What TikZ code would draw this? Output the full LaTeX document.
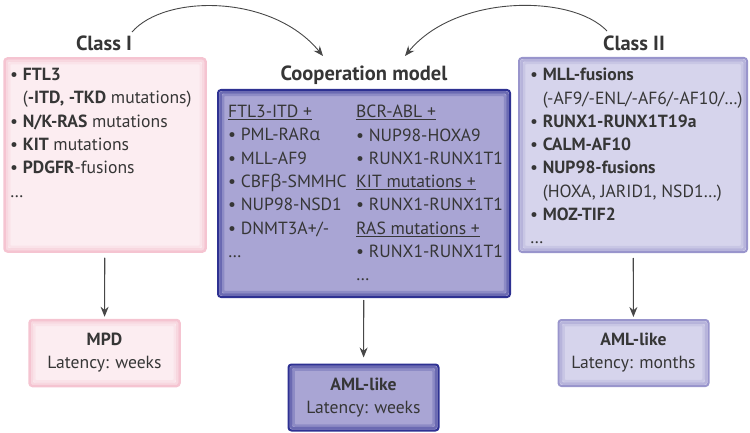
\documentclass[tikz,border=0pt]{standalone}
\usepackage{fontspec}
\setmainfont{PT Sans}
\newfontfamily\greekfont{Open Sans}
\usetikzlibrary{arrows.meta, positioning, calc}
\definecolor{TextGray}{HTML}{363636}
\definecolor{ArrowGray}{HTML}{474747}
\definecolor{PinkFill}{HTML}{FCEDF1}
\definecolor{PinkLine}{HTML}{F5C4D1}
\definecolor{Lilac}{HTML}{A9A5D4}
\definecolor{NavyLine}{HTML}{2E3192}
\definecolor{PaleLilac}{HTML}{D6D4EC}
\definecolor{LilacLine}{HTML}{9995CC}
\newcommand{\gk}[1]{{\greekfont #1}}
\newcommand{\bul}{\textbullet\ }
\newcommand{\ind}{\phantom{\textbullet\ }}
% soft band inside a box
\newcommand{\innerglow}[2]{%
  \draw[#2, line width=2.5pt, rounded corners=2pt, opacity=.5]
    ($(#1.north west)+(3.5,3.5)$) rectangle ($(#1.south east)+(-3.5,-3.5)$);
  \draw[#2, line width=2.5pt, rounded corners=2pt, opacity=.22]
    ($(#1.north west)+(6,6)$) rectangle ($(#1.south east)+(-6,-6)$);
}

\tikzset{
  classone/.style={draw=PinkLine, fill=PinkFill, line width=2.5pt, rounded corners=3pt},
  coopbox/.style={draw=NavyLine, fill=Lilac, line width=2pt, rounded corners=3pt},
  classtwo/.style={draw=LilacLine, fill=PaleLilac, line width=2pt, rounded corners=3pt},
  boxtext/.style={anchor=north west, align=left, inner sep=0pt, text=TextGray,
    font=\fontsize{17.6}{23.3}\selectfont},
  cooptext/.style={boxtext, font=\fontsize{17.6}{23.3}\selectfont},
  heading/.style={inner sep=0pt, text=TextGray, font=\fontsize{20.5}{24}\selectfont\bfseries},
  outcome/.style={minimum width=150pt, minimum height=66pt, align=center, text=TextGray,
    font=\fontsize{17.6}{23}\selectfont},
  arrowline/.style={->, draw=ArrowGray, line width=1.1pt}
}

\begin{document}
\begin{tikzpicture}[x=1pt, y=-1pt, >={Stealth[length=10pt,width=8pt]}]
  \useasboundingbox (0,0) rectangle (750,433);
  % big boxes
  \node[classone, minimum width=201pt, minimum height=193pt] (classI) at (105,155) {};
  \node[coopbox, minimum width=292pt, minimum height=207pt] (coop) at (364,193.5) {};
  \node[classtwo, minimum width=228pt, minimum height=194pt] (classII) at (633,155) {};
  \innerglow{classI}{PinkLine}
  \innerglow{coop}{NavyLine}
  \innerglow{classII}{LilacLine}
  % titles
  \node[heading] (titleI) at (104,43) {Class I};
  \node[heading] (titlecoop) at (364,75) {Cooperation model};
  \node[heading] (titleII) at (634,43) {Class II};
  % box contents
  \node[boxtext] (listI) at (10,68) {%
    \bul\textbf{FTL3}\\
    \ind(\textbf{-ITD, -TKD} mutations)\\
    \bul\textbf{N/K-RAS} mutations\\
    \bul\textbf{KIT} mutations\\
    \bul\textbf{PDGFR}-fusions\\
    \dots};
  \node[cooptext] (coopleft) at (228,105) {%
    \underline{FTL3-ITD +}\\
    \bul PML-RAR\gk{α}\\
    \bul MLL-AF9\\
    \bul CBF\gk{β}-SMMHC\\
    \bul NUP98-NSD1\\
    \bul DNMT3A+/-\\
    \dots};
  \node[cooptext] (coopright) at (356,105) {%
    \underline{BCR-ABL +}\\
    \bul NUP98-HOXA9\\
    \bul RUNX1-RUNX1T1\\
    \underline{KIT mutations +}\\
    \bul RUNX1-RUNX1T1\\
    \underline{RAS mutations +}\\
    \bul RUNX1-RUNX1T1\\
    \dots};
  \node[boxtext] (listII) at (530,68) {%
    \bul\textbf{MLL-fusions}\\
    \ind(-AF9/-ENL/-AF6/-AF10/\dots)\\
    \bul\textbf{RUNX1-RUNX1T19a}\\
    \bul\textbf{CALM-AF10}\\
    \bul\textbf{NUP98-fusions}\\
    \ind(HOXA, JARID1, NSD1\dots)\\
    \bul\textbf{MOZ-TIF2}\\
    \dots};
  % outcomes
  \node[outcome, classone] (mpd) at (104.5,353) {\textbf{MPD}\\Latency: weeks};
  \node[outcome, coopbox] (amlmid) at (363.5,397.5) {\textbf{AML-like}\\Latency: weeks};
  \node[outcome, classtwo] (amlright) at (633.5,353) {\textbf{AML-like}\\Latency: months};
  \innerglow{mpd}{PinkLine}
  \innerglow{amlmid}{NavyLine}
  \innerglow{amlright}{LilacLine}
  % arrows
  \draw[arrowline, shorten <=5pt, shorten >=2pt] (classI) -- (mpd);
  \draw[arrowline, shorten <=2pt, shorten >=6pt] (coop) -- (amlmid);
  \draw[arrowline, shorten <=5pt, shorten >=2pt] (classII) -- (amlright);
  \coordinate (startI) at (132,32);
  \coordinate (endI) at (323,56);
  \coordinate (startII) at (607,31);
  \coordinate (endII) at (405,56);
  \draw[arrowline, line width=0.9pt] (startI) .. controls (165,-6) and (272,-6) .. (endI);
  \draw[arrowline, line width=0.9pt] (startII) .. controls (572,-6) and (456,-6) .. (endII);
\end{tikzpicture}
\end{document}
